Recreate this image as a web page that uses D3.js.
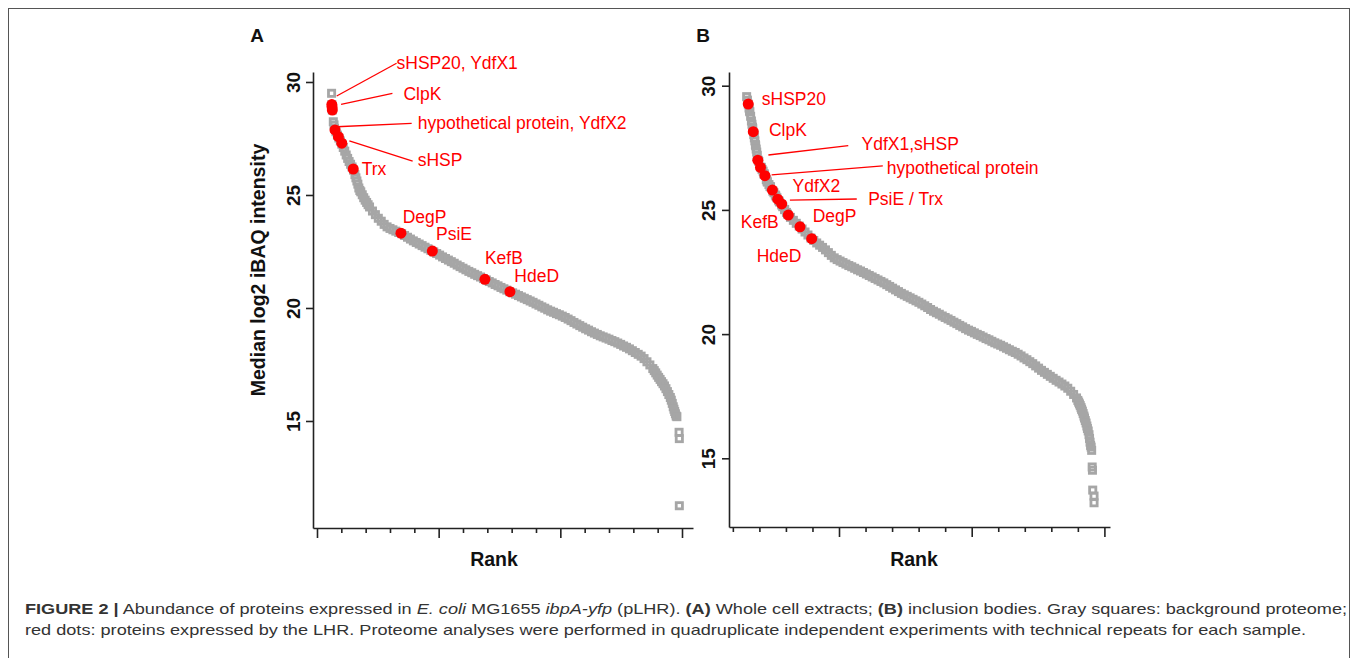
<!DOCTYPE html>
<html>
<head>
<meta charset="utf-8">
<script src="https://cdn.jsdelivr.net/npm/d3@7"></script>
<style>
  body { margin: 0; background: #fff; }
  svg text { font-family: "Liberation Sans", Arial, Helvetica, sans-serif; }
</style>
</head>
<body>
<script>
// y axis ticks (both panels)
const yTicks = [15, 20, 25, 30];

// rank ticks (no labels in the figure)
const rankMajorA = [0, 500, 1000, 1500];
const rankMinorA = [100, 200, 300, 400, 600, 700, 800, 900, 1100, 1200, 1300, 1400];
const rankMajorB = [500, 1000, 1500];
const rankMinorB = [100, 200, 300, 400, 600, 700, 800, 900, 1100, 1200, 1300, 1400];

// background proteome, panel A: one value every 12 ranks from rank 60
const grayStartA = 60;
const grayStepA = 12;
const grayValsA = [
  29.50, 27.95, 27.65, 27.39, 27.10, 26.77, 26.48, 26.24, 25.90, 25.48,
  25.14, 24.88, 24.67, 24.47, 24.29, 24.13, 23.97, 23.84, 23.70, 23.59,
  23.52, 23.46, 23.40, 23.34, 23.29, 23.21, 23.13, 23.05, 22.97, 22.90,
  22.83, 22.76, 22.69, 22.62, 22.55, 22.48, 22.41, 22.34, 22.26, 22.19,
  22.12, 22.05, 21.98, 21.90, 21.83, 21.76, 21.69, 21.62, 21.56, 21.49,
  21.43, 21.37, 21.30, 21.24, 21.17, 21.11, 21.04, 20.98, 20.91, 20.85,
  20.79, 20.72, 20.67, 20.61, 20.55, 20.49, 20.43, 20.37, 20.31, 20.25,
  20.18, 20.12, 20.05, 19.99, 19.92, 19.86, 19.81, 19.75, 19.70, 19.64,
  19.58, 19.51, 19.44, 19.36, 19.29, 19.22, 19.15, 19.08, 19.02, 18.95,
  18.89, 18.83, 18.77, 18.72, 18.67, 18.62, 18.56, 18.51, 18.45, 18.39,
  18.32, 18.26, 18.19, 18.11, 18.03, 17.95, 17.87, 17.76, 17.62, 17.48,
  17.32, 17.13, 16.93, 16.74, 16.55, 16.30, 16.04, 15.63, 15.22, 14.50
];
// extra proteins in the steep ends of panel A: [rank, value]
const grayExtraA = [
  [61, 29.00], [62, 28.89], [63, 28.76], [67, 28.24], [70, 28.10], [78, 27.80], [90, 27.52],
  [102, 27.25], [114, 26.94], [126, 26.62], [138, 26.36], [150, 26.10], [160, 25.76],
  [164, 25.62], [172, 25.31], [176, 25.20], [186, 25.01], [198, 24.77], [210, 24.57],
  [1386, 17.23], [1398, 17.03], [1410, 16.84], [1422, 16.65], [1434, 16.43], [1446, 16.17],
  [1456, 15.92], [1460, 15.78], [1467, 15.52], [1470, 15.42], [1473, 15.32], [1479, 15.19],
  [1489, 14.22], [1489, 11.25]
];

// background proteome, panel B: one value every 11 ranks from rank 152
const grayStartB = 152;
const grayStepB = 11;
const grayValsB = [
  29.56, 28.98, 28.33, 27.63, 27.00, 26.70, 26.44, 26.16, 25.94, 25.75,
  25.56, 25.37, 25.20, 25.01, 24.83, 24.70, 24.58, 24.46, 24.35, 24.23,
  24.11, 23.99, 23.87, 23.77, 23.67, 23.58, 23.49, 23.39, 23.28, 23.17,
  23.07, 23.00, 22.94, 22.88, 22.82, 22.76, 22.71, 22.65, 22.59, 22.54,
  22.48, 22.42, 22.36, 22.30, 22.24, 22.18, 22.12, 22.06, 21.99, 21.92,
  21.85, 21.78, 21.71, 21.64, 21.58, 21.52, 21.46, 21.40, 21.34, 21.28,
  21.21, 21.14, 21.07, 20.99, 20.92, 20.86, 20.80, 20.73, 20.67, 20.61,
  20.55, 20.48, 20.42, 20.35, 20.29, 20.22, 20.16, 20.11, 20.05, 19.99,
  19.94, 19.88, 19.82, 19.77, 19.71, 19.65, 19.60, 19.55, 19.49, 19.43,
  19.37, 19.31, 19.26, 19.19, 19.12, 19.04, 18.97, 18.89, 18.81, 18.72,
  18.63, 18.54, 18.46, 18.38, 18.30, 18.22, 18.14, 18.07, 17.99, 17.91,
  17.82, 17.70, 17.57, 17.43, 17.19, 16.90, 16.52, 16.10, 15.45
];
const grayExtraB = [
  [155, 29.42], [158, 29.26], [161, 29.10], [164, 28.95], [167, 28.77], [170, 28.58],
  [172, 28.45], [175, 28.27], [179, 28.03], [181, 27.90], [183, 27.78], [186, 27.58],
  [188, 27.45], [190, 27.33], [192, 27.20], [198, 26.95], [206, 26.72], [210, 26.63],
  [214, 26.56], [218, 26.45], [226, 26.22], [230, 26.12], [236, 26.02], [242, 25.93],
  [255, 25.69], [260, 25.60], [266, 25.49], [276, 25.32], [288, 25.13], [295, 25.02], [302, 24.90],
  [1400, 17.33], [1403, 17.26], [1409, 17.12], [1412, 17.04], [1414, 16.97], [1420, 16.80],
  [1423, 16.70], [1425, 16.62], [1431, 16.42], [1434, 16.30], [1436, 16.20], [1442, 15.95],
  [1444, 15.80], [1446, 15.65], [1448, 15.52], [1452, 15.32], [1454, 14.65], [1455, 14.52],
  [1456, 13.72], [1461, 13.48], [1461, 13.21]
];

// LHR proteins (red dots)
const redNamesA = ["sHSP20", "YdfX1", "ClpK", "hypothetical protein", "YdfX2", "sHSP", "Trx", "DegP", "PsiE", "KefB", "HdeD"];
const redRanksA = [61, 62, 63, 74, 88, 102, 149, 345, 474, 690, 793];
const redValsA  = [29.00, 28.89, 28.76, 27.88, 27.58, 27.29, 26.15, 23.31, 22.52, 21.27, 20.72];

const redNamesB = ["sHSP20", "ClpK", "YdfX1", "sHSP", "hypothetical protein", "YdfX2", "PsiE", "Trx", "DegP", "KefB", "HdeD"];
const redRanksB = [158, 177, 194, 204, 221, 249, 269, 284, 309, 353, 397];
const redValsB  = [29.26, 28.15, 27.00, 26.71, 26.38, 25.80, 25.43, 25.24, 24.79, 24.32, 23.84];

// label layout in data units: [text, rank, value]
const labelsA = [
  ["sHSP20, YdfX1", 327, 30.58], ["ClpK", 355, 29.20], ["hypothetical protein, YdfX2", 414, 27.92],
  ["sHSP", 414, 26.30], ["Trx", 184, 25.89], ["DegP", 352, 23.75], ["PsiE", 489, 23.01],
  ["KefB", 690, 21.93], ["HdeD", 811, 21.16]
];
const leadersA = [
  [81, 29.38, 327, 30.83], [99, 29.01, 310, 29.50], [81, 28.02, 389, 28.17], [133, 27.39, 393, 26.50]
];
const labelsB = [
  ["sHSP20", 209, 29.22], ["ClpK", 236, 27.99], ["YdfX1,sHSP", 585, 27.41],
  ["hypothetical protein", 680, 26.45], ["YdfX2", 325, 25.73], ["PsiE / Trx", 610, 25.20],
  ["DegP", 401, 24.53], ["KefB", 130, 24.26], ["HdeD", 190, 22.89]
];
const leadersB = [
  [234, 27.21, 535, 27.59], [246, 26.41, 665, 26.77], [315, 25.39, 567, 25.44]
];

// caption pieces: [text, style]
const caption1 = [
  ["FIGURE 2 |", "b"], [" Abundance of proteins expressed in ", ""], ["E. coli", "i"], [" MG1655 ", ""],
  ["ibpA-yfp", "i"], [" (pLHR). ", ""], ["(A)", "b"], [" Whole cell extracts; ", ""], ["(B)", "b"],
  [" inclusion bodies. Gray squares: background proteome;", ""]
];
const caption2 = "red dots: proteins expressed by the LHR. Proteome analyses were performed in quadruplicate independent experiments with technical repeats for each sample.";

const W = 1358, H = 658;
const svg = d3.select("body").append("svg").attr("width", W).attr("height", H);

// figure frame
svg.append("rect")
  .attr("x", 8.5).attr("y", 8.5).attr("width", 1341).attr("height", 700)
  .attr("fill", "none").attr("stroke", "#555").attr("stroke-width", 1);

const panels = [
  {
    letter: "A", letterX: 257,
    xDomain: [-16.4, 1545.2], xRange: [313, 693],
    yDomain: [10.265, 30.442], yRange: [528, 72],
    major: rankMajorA, minor: rankMinorA,
    grayStart: grayStartA, grayStep: grayStepA, grayVals: grayValsA, grayExtra: grayExtraA,
    redRanks: redRanksA, redVals: redValsA, redNames: redNamesA,
    labels: labelsA, leaders: leadersA, rankX: 494, tickPad: 13, yTitle: true
  },
  {
    letter: "B", letterX: 703,
    xDomain: [85.5, 1521.1], xRange: [729, 1110],
    yDomain: [12.234, 30.552], yRange: [527, 72],
    major: rankMajorB, minor: rankMinorB,
    grayStart: grayStartB, grayStep: grayStepB, grayVals: grayValsB, grayExtra: grayExtraB,
    redRanks: redRanksB, redVals: redValsB, redNames: redNamesB,
    labels: labelsB, leaders: leadersB, rankX: 914, tickPad: 14, yTitle: false
  }
];

panels.forEach(p => {
  const x = d3.scaleLinear().domain(p.xDomain).range(p.xRange);
  const y = d3.scaleLinear().domain(p.yDomain).range(p.yRange);
  const g = svg.append("g");

  // background proteome: hollow gray squares (thick outline so the dense run reads as a band)
  const gray = p.grayVals.map((v, i) => ({ rank: p.grayStart + i * p.grayStep, value: v }))
    .concat(p.grayExtra.map(d => ({ rank: d[0], value: d[1] })));
  g.append("g").selectAll("rect")
    .data(gray)
    .join("rect")
    .attr("x", d => x(d.rank) - 3.1)
    .attr("y", d => y(d.value) - 3.1)
    .attr("width", 6.2)
    .attr("height", 6.2)
    .attr("fill", "none")
    .attr("stroke", "#a6a6a6")
    .attr("stroke-width", 2.8);

  // LHR proteins
  const red = p.redRanks.map((r, i) => ({ rank: r, value: p.redVals[i], name: p.redNames[i] }));
  g.append("g").selectAll("circle")
    .data(red)
    .join("circle")
    .attr("cx", d => x(d.rank))
    .attr("cy", d => y(d.value))
    .attr("r", 5.5)
    .attr("fill", "#ff0000");

  // leader lines and labels
  g.append("g").selectAll("line")
    .data(p.leaders)
    .join("line")
    .attr("x1", d => x(d[0])).attr("y1", d => y(d[1]))
    .attr("x2", d => x(d[2])).attr("y2", d => y(d[3]))
    .attr("stroke", "#ff0000").attr("stroke-width", 1.3);

  g.append("g").selectAll("text")
    .data(p.labels)
    .join("text")
    .attr("x", d => x(d[1]))
    .attr("y", d => y(d[2]))
    .attr("fill", "#ff0000")
    .style("font-size", "17.5px")
    .text(d => d[0]);

  // y axis
  const ga = g.append("g")
    .attr("transform", `translate(${p.xRange[0]},0)`)
    .call(d3.axisLeft(y).tickValues(yTicks).tickSize(7).tickSizeOuter(0).tickFormat(d3.format("d")));
  ga.attr("font-family", null).attr("font-size", null);
  ga.select(".domain").attr("stroke", "#222").attr("stroke-width", 1.6);
  ga.selectAll(".tick line").attr("stroke", "#222").attr("stroke-width", 1.6);
  ga.selectAll(".tick text")
    .attr("transform", "rotate(-90)")
    .attr("x", 0)
    .attr("y", -p.tickPad)
    .attr("dy", null)
    .attr("text-anchor", "middle")
    .attr("fill", "#111")
    .style("font-size", "19px")
    .style("font-weight", "bold");

  // x axis: major and minor ticks, no labels
  const gx = g.append("g")
    .attr("transform", `translate(0,${p.yRange[0]})`)
    .call(d3.axisBottom(x).tickValues(p.major).tickSize(10).tickSizeOuter(0).tickFormat(""));
  gx.select(".domain").attr("stroke", "#222").attr("stroke-width", 1.6);
  gx.selectAll(".tick line").attr("stroke", "#222").attr("stroke-width", 1.6);
  const gm = g.append("g")
    .attr("transform", `translate(0,${p.yRange[0]})`)
    .call(d3.axisBottom(x).tickValues(p.minor).tickSize(5).tickSizeOuter(0).tickFormat(""));
  gm.select(".domain").remove();
  gm.selectAll(".tick line").attr("stroke", "#222").attr("stroke-width", 1.6);

  // titles
  g.append("text")
    .attr("x", p.rankX).attr("y", 565.5)
    .attr("text-anchor", "middle")
    .attr("fill", "#111")
    .style("font-size", "19.5px").style("font-weight", "bold")
    .text("Rank");

  if (p.yTitle) {
    g.append("text")
      .attr("transform", "translate(265,270) rotate(-90)")
      .attr("text-anchor", "middle")
      .attr("fill", "#111")
      .style("font-size", "19.5px").style("font-weight", "bold")
      .text("Median log2 iBAQ intensity");
  }

  g.append("text")
    .attr("x", p.letterX).attr("y", 42)
    .attr("text-anchor", "middle")
    .attr("fill", "#111")
    .style("font-size", "19px").style("font-weight", "bold")
    .text(p.letter);
});

// caption
const c1 = svg.append("text")
  .attr("x", 25).attr("y", 613.5)
  .attr("textLength", 1322).attr("lengthAdjust", "spacingAndGlyphs")
  .attr("fill", "#333")
  .style("font-size", "14.5px");
c1.selectAll("tspan")
  .data(caption1)
  .join("tspan")
  .style("font-weight", d => d[1] === "b" ? "bold" : null)
  .style("font-style", d => d[1] === "i" ? "italic" : null)
  .text(d => d[0]);

svg.append("text")
  .attr("x", 25).attr("y", 634.5)
  .attr("textLength", 1281).attr("lengthAdjust", "spacingAndGlyphs")
  .attr("fill", "#333")
  .style("font-size", "14.5px")
  .text(caption2);
</script>
</body>
</html>
